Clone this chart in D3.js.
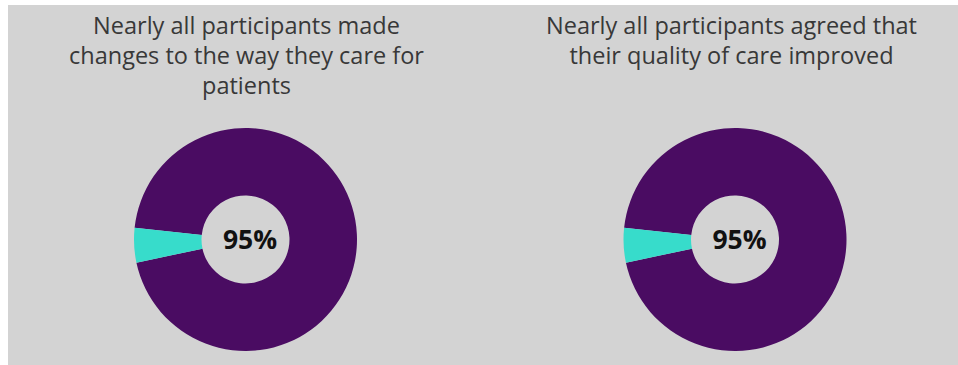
<!DOCTYPE html>
<html>
<head>
<meta charset="utf-8">
<script src="https://cdn.jsdelivr.net/npm/d3@7"></script>
<style>
  body { margin: 0; background: #fff; }
  svg { display: block; }
</style>
</head>
<body>
<div id="chart"></div>
<script>
var width = 958;
var height = 365;

// data
var titles = [
    ["Nearly all participants made", "changes to the way they care for", "patients"],
    ["Nearly all participants agreed that", "their quality of care improved"]
];
var yesValues = [95, 95];
var noValues = [5, 5];
var labels = ["95%", "95%"];

var colors = ["#4a0c62", "#37dccb"];

var svg = d3.select("#chart")
    .append("svg")
    .attr("width", width)
    .attr("height", height)

svg.append("rect")
    .attr("x", 8)
    .attr("y", 5)
    .attr("width", width - 8)
    .attr("height", height - 5)
    .attr("fill", "#d3d3d3")

var centersX = [245.5, 735];
var titleX = [246.5, 731.5];
var cy = 239.5;
var outerR = 111.5;
var innerR = 44;

var pie = d3.pie()
    .sort(null)
    .startAngle(-84 * Math.PI / 180)
    .endAngle(276 * Math.PI / 180);

var arc = d3.arc()
    .innerRadius(innerR)
    .outerRadius(outerR);

yesValues.forEach(function(v, i) {
    var g = svg.append("g")
        .attr("transform", "translate(" + centersX[i] + "," + cy + ")");

    g.selectAll("path")
        .data(pie([v, noValues[i]]))
        .enter().append("path")
        .attr("d", arc)
        .attr("fill", function(d, j) { return colors[j] })

    g.append("text")
        .attr("x", 4.5)
        .attr("y", 0)
        .attr("dy", "0.35em")
        .attr("text-anchor", "middle")
        .attr("font-family", "'Open Sans', sans-serif")
        .attr("font-weight", 700)
        .attr("font-size", 26.5)
        .attr("fill", "#111")
        .text(labels[i])

    var t = svg.append("text")
        .attr("text-anchor", "middle")
        .attr("font-family", "'Open Sans', sans-serif")
        .attr("font-weight", 400)
        .attr("font-size", 23.5)
        .attr("fill", "#383838")

    titles[i].forEach(function(line, k) {
        t.append("tspan")
            .attr("x", titleX[i])
            .attr("y", 34 + k * 30)
            .text(line)
    })
});
</script>
</body>
</html>
